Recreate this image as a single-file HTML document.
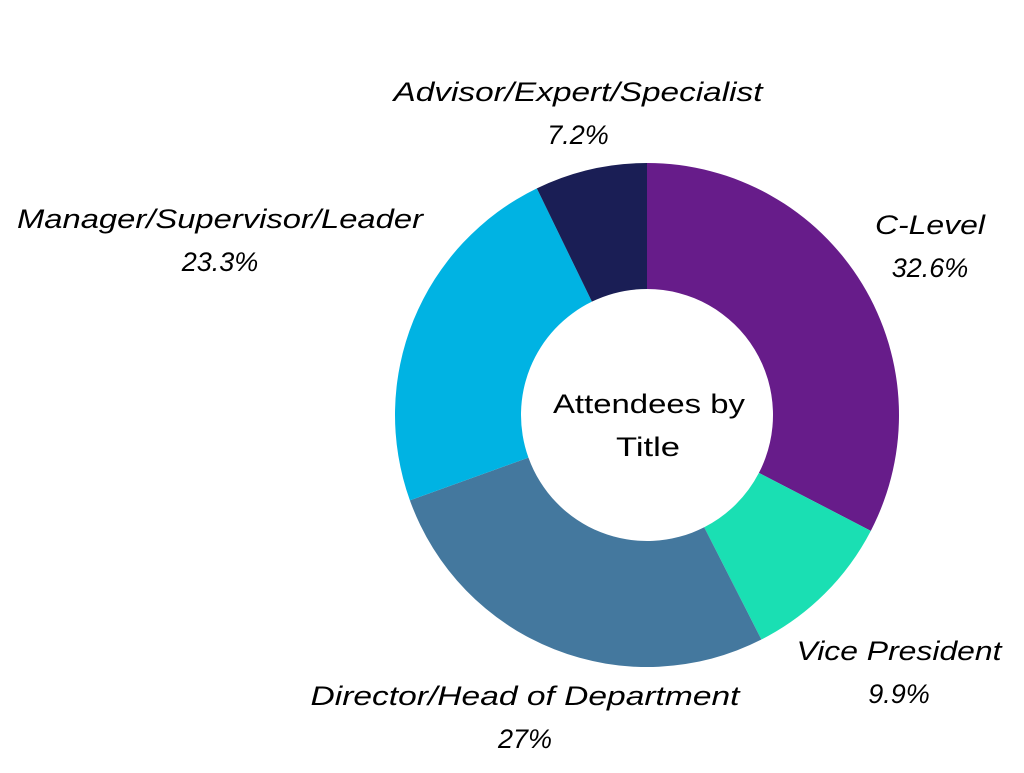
<!DOCTYPE html>
<html><head><meta charset="utf-8"><style>
body{margin:0;background:#fff;}
svg text{font-family:"Liberation Sans",sans-serif;}
</style></head><body>
<svg width="1024" height="768">
<g id="slices"></g>
<g id="labels"></g>
<text x="649" y="413" text-anchor="middle" font-size="27" textLength="192" lengthAdjust="spacingAndGlyphs" fill="#000">Attendees by</text>
<text x="648" y="456" text-anchor="middle" font-size="27" textLength="64" lengthAdjust="spacingAndGlyphs" fill="#000">Title</text>
</svg>
<script>
const categories=["C-Level","Vice President","Director/Head of Department","Manager/Supervisor/Leader","Advisor/Expert/Specialist"];
const values=[32.6,9.9,27,23.3,7.2];
const valueLabels=["32.6%","9.9%","27%","23.3%","7.2%"];
const colors=["#671c8a","#1adfb3","#44789e","#00b3e3","#1a1e55"];
const labelPos=[[930,224],[899,650],[525,695],[220,218],[578,91]];
const labelWidths=[110,205,429,406,369];
const cx=647,cy=415,R=252,r=126;
const ns="http://www.w3.org/2000/svg";
const total=values.reduce((a,b)=>a+b,0);
let a0=0;
const g=document.getElementById('slices'),gl=document.getElementById('labels');
function pt(rad,a){return [cx+rad*Math.sin(a),cy-rad*Math.cos(a)];}
values.forEach((v,i)=>{
 const a1=a0+v/total*2*Math.PI;
 const large=(a1-a0)>Math.PI?1:0;
 const p1=pt(R,a0),p2=pt(R,a1),p3=pt(r,a1),p4=pt(r,a0);
 const p=document.createElementNS(ns,'path');
 p.setAttribute('d',`M${p1}A${R},${R} 0 ${large} 1 ${p2}L${p3}A${r},${r} 0 ${large} 0 ${p4}Z`);
 p.setAttribute('fill',colors[i]);
 
 
 g.appendChild(p);
 a0=a1;
 [categories[i],valueLabels[i]].forEach((s,k)=>{
  const t=document.createElementNS(ns,'text');
  t.setAttribute('x',labelPos[i][0]);t.setAttribute('y',labelPos[i][1]+k*43+10);
  t.setAttribute('text-anchor','middle');t.setAttribute('font-size','27');t.setAttribute('font-style','italic');
  if(k===0){t.setAttribute('textLength',labelWidths[i]);t.setAttribute('lengthAdjust','spacingAndGlyphs');}
  t.textContent=s;
  
  
  gl.appendChild(t);
 });
});
</script>
</body></html>
